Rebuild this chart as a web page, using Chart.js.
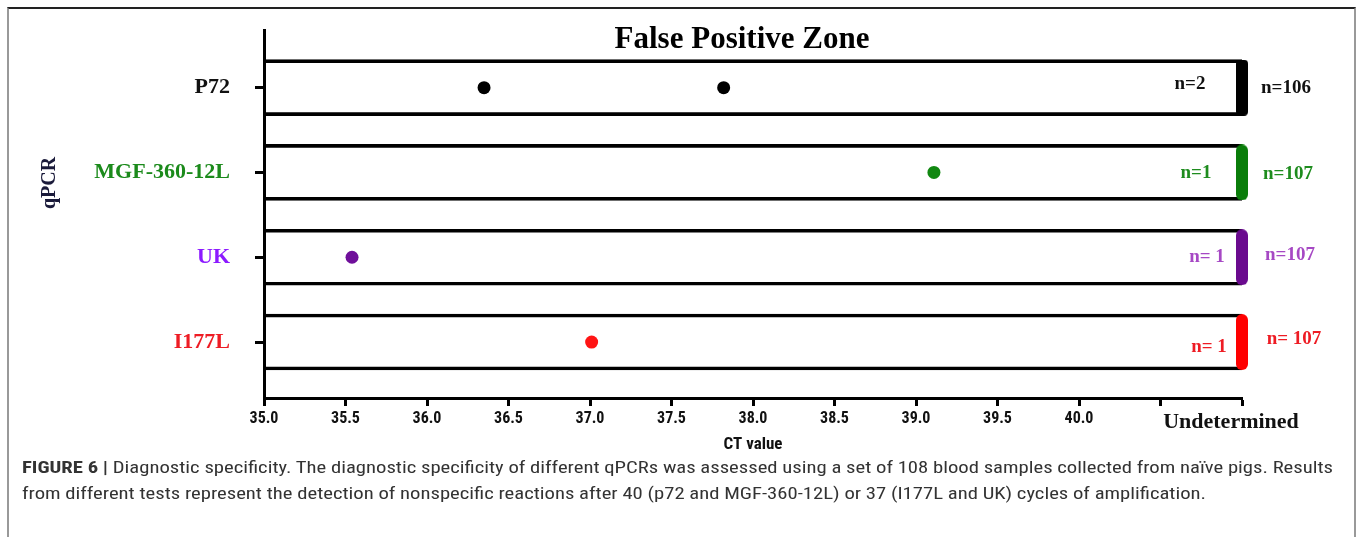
<!DOCTYPE html>
<html>
<head>
<meta charset="utf-8">
<script src="https://cdn.jsdelivr.net/npm/chart.js@4.4.1/dist/chart.umd.min.js"></script>
<style>
  html, body { margin: 0; padding: 0; background: #fff; }
  body { width: 1360px; height: 537px; position: relative; overflow: hidden; }
  #frame {
    position: absolute; left: 7px; top: 7px; width: 1345px; height: 600px;
    border-top: 2px solid #222; border-left: 2px solid #999; border-right: 2px solid #999;
  }
  #wrap { position: absolute; left: 0; top: 0; width: 1360px; height: 456px; }
  #caption {
    position: absolute; left: 22px; top: 454px; color: #333;
    font-family: 'Liberation Sans Narrow', 'Roboto Condensed', 'Liberation Sans', Arial, sans-serif;
    font-size: 17px; line-height: 26px;
  }
  #caption span { display: inline-block; white-space: nowrap; transform-origin: left center; }
</style>
</head>
<body>
<div id="frame"></div>
<div id="wrap"><canvas id="myChart" width="1360" height="456"></canvas></div>
<div id="caption">
  <span id="cap1"><b>FIGURE 6 |</b> Diagnostic specificity. The diagnostic specificity of different qPCRs was assessed using a set of 108 blood samples collected from naïve pigs. Results</span><br>
  <span id="cap2">from different tests represent the detection of nonspecific reactions after 40 (p72 and MGF-360-12L) or 37 (I177L and UK) cycles of amplification.</span>
</div>
<script>
// datos del grafico
var categorias = ['P72', 'MGF-360-12L', 'UK', 'I177L'];
var ctPositivos = [[36.35, 37.82], [39.11], [35.54], [37.01]];
var textoPositivos = ['n=2', 'n=1', 'n= 1', 'n= 1'];
var textoIndeterminados = ['n=106', 'n=107', 'n=107', 'n= 107'];
var INDETERMINADO = 41;   // posicion "Undetermined" en el eje CT
var ctMin = 35;

// colores por qPCR
var colorEtiqueta = ['#111111', '#1b8a1b', '#8c1aff', '#ee1c24'];
var colorPunto = ['#000000', '#118811', '#6f0f9a', '#ff1414'];
var colorBarra = ['#000000', '#0a7d0a', '#6a0a8e', '#ff0000'];
var colorConteo = ['#111111', '#1e8c1e', '#a648c4', '#ee1c24'];

// ajustes de posicion de los textos n=
var dxDentro = [-52, -46, -35, -33], dyDentro = [-4, 1, 0, 5];
var dxFuera = [44, 46, 48, 52], dyFuera = [0, 2, -2, -3];

var serif = "'Liberation Serif', 'Times New Roman', serif";
var sans = "'Liberation Sans Narrow', 'Roboto Condensed', 'Liberation Sans', Arial, sans-serif";

function hacerBarra(color, radio) {
    var c = document.createElement('canvas');
    c.width = 12; c.height = 56;
    var g = c.getContext('2d');
    g.fillStyle = color;
    g.beginPath();
    g.roundRect(0, 0, 12, 56, radio);
    g.fill();
    return c;
}
var barrasFin = colorBarra.map(function (col, i) { return hacerBarra(col, i === 0 ? 4 : 6); });

var puntos = [];
ctPositivos.forEach(function (vals, i) {
    vals.forEach(function (v) { puntos.push({ x: v, y: i }); });
});

var textos = {
    id: 'textos',
    afterDatasetsDraw: function (chart) {
        var ctx = chart.ctx, xs = chart.scales.x, ys = chart.scales.y, area = chart.chartArea;
        ctx.save();
        ctx.fillStyle = '#000';
        ctx.font = 'bold 31px ' + serif;
        ctx.textAlign = 'center';
        ctx.textBaseline = 'alphabetic';
        ctx.fillText('False Positive Zone', (area.left + area.right) / 2 - 11, 48);

        ctx.font = 'bold 19px ' + serif;
        ctx.textBaseline = 'middle';
        var xFin = xs.getPixelForValue(INDETERMINADO);
        categorias.forEach(function (c, i) {
            var y = ys.getPixelForValue(i);
            ctx.fillStyle = colorConteo[i];
            ctx.fillText(textoPositivos[i], xFin + dxDentro[i], y + dyDentro[i]);
            ctx.fillText(textoIndeterminados[i], xFin + dxFuera[i], y + dyFuera[i]);
        });

        ctx.translate(50, 183);
        ctx.rotate(-Math.PI / 2);
        ctx.fillStyle = '#1a1a3a';
        ctx.font = 'bold 20px ' + serif;
        ctx.fillText('qPCR', 0, 0);
        ctx.restore();
    }
};

var ctx = document.getElementById('myChart').getContext('2d');
var myChart = new Chart(ctx, {
    type: 'bar',
    data: {
        datasets: [
            {
                type: 'scatter',
                label: 'Positivos',
                data: puntos,
                pointRadius: 6.5,
                pointHoverRadius: 6.5,
                pointBorderWidth: 0,
                pointBackgroundColor: function (c) { return colorPunto[c.raw.y]; },
                order: 0
            },
            {
                type: 'scatter',
                label: 'Indeterminados',
                data: categorias.map(function (c, i) { return { x: INDETERMINADO, y: i }; }),
                pointStyle: function (c) { return barrasFin[c.dataIndex]; },
                pointRadius: 6,
                clip: false,
                order: 1
            },
            {
                type: 'bar',
                label: 'Zona',
                indexAxis: 'y',
                data: categorias.map(function (c, i) { return { x: INDETERMINADO, y: i }; }),
                backgroundColor: 'rgba(0,0,0,0)',
                borderColor: '#000',
                borderWidth: { top: 3, bottom: 3, left: 0, right: 0 },
                borderSkipped: false,
                barThickness: 56,
                order: 3
            }
        ]
    },
    options: {
        responsive: false,
        animation: false,
        layout: { padding: { top: 30, right: 118, left: 0, bottom: 0 } },
        plugins: { legend: { display: false }, tooltip: { enabled: false } },
        scales: {
            x: {
                type: 'linear',
                position: 'bottom',
                offset: false,
                min: ctMin,
                max: INDETERMINADO,
                afterFit: function (s) { s.height = 58; },
                ticks: {
                    stepSize: 0.5,
                    padding: 3,
                    autoSkip: false,
                    maxRotation: 0,
                    minRotation: 0,
                    color: '#111',
                    callback: function (v) {
                        if (v === INDETERMINADO) return 'Undetermined    ';
                        if (v > 40) return '';
                        return v.toFixed(1);
                    },
                    font: function (c) {
                        if (c.tick && c.tick.value === INDETERMINADO) {
                            return { family: serif, size: 22, weight: 'bold' };
                        }
                        return { family: sans, size: 16, weight: 'bold' };
                    }
                },
                grid: { offset: false, drawOnChartArea: false, drawTicks: true, tickLength: 8, tickWidth: 3, tickColor: '#000' },
                border: { color: '#000', width: 3 },
                title: {
                    display: true,
                    text: 'CT value',
                    color: '#111',
                    font: { family: sans, size: 17, weight: 'bold' },
                    padding: { top: 4, bottom: 1 }
                }
            },
            y: {
                type: 'linear',
                position: 'left',
                offset: false,
                reverse: true,
                min: -0.68,
                max: 3.66,
                afterFit: function (s) {
                    s.width = 264;
                    s.paddingTop = 0;
                    s.paddingBottom = 0;
                },
                ticks: {
                    stepSize: 1,
                    includeBounds: false,
                    padding: 25,
                    callback: function (v) { return Number.isInteger(v) ? categorias[v] : ''; },
                    color: function (c) { return colorEtiqueta[c.tick.value] || '#000'; },
                    font: { family: serif, size: 22, weight: 'bold' }
                },
                grid: { offset: false, drawOnChartArea: false, drawTicks: true, tickLength: 9, tickWidth: 3, tickColor: '#000' },
                border: { color: '#000', width: 3 }
            }
        }
    },
    plugins: [textos]
});

// ajustar el ancho del pie de figura
var cap1 = document.getElementById('cap1'), cap2 = document.getElementById('cap2');
var escala = 1311 / cap1.getBoundingClientRect().width;
cap1.style.transform = 'scaleX(' + escala + ')';
cap2.style.transform = 'scaleX(' + escala + ')';
</script>
</body>
</html>
